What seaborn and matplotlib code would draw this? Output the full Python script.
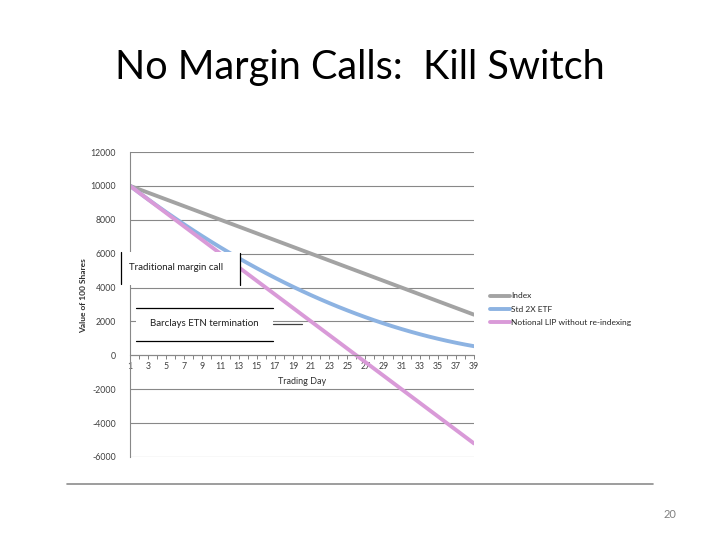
import pandas as pd
import seaborn as sns
import matplotlib.pyplot as plt
from matplotlib.patches import Rectangle
from matplotlib.lines import Line2D

sns.set_theme(style="white")
plt.rcParams['font.family'] = ['Lato', 'DejaVu Sans']

# value of 100 shares by trading day
days = list(range(1, 40))
index_vals = [10000, 9800, 9600, 9400, 9200, 9000, 8800, 8600, 8400, 8200,
              8000, 7800, 7600, 7400, 7200, 7000, 6800, 6600, 6400, 6200,
              6000, 5800, 5600, 5400, 5200, 5000, 4800, 4600, 4400, 4200,
              4000, 3800, 3600, 3400, 3200, 3000, 2800, 2600, 2400]
etf_vals = [10000, 9600, 9208, 8824, 8449, 8082, 7722, 7371, 7029, 6694,
            6367, 6049, 5739, 5437, 5143, 4857, 4580, 4310, 4049, 3796,
            3551, 3314, 3086, 2865, 2653, 2449, 2253, 2065, 1886, 1714,
            1551, 1396, 1249, 1110, 980, 857, 743, 637, 539]
lip_vals = [10000, 9600, 9200, 8800, 8400, 8000, 7600, 7200, 6800, 6400,
            6000, 5600, 5200, 4800, 4400, 4000, 3600, 3200, 2800, 2400,
            2000, 1600, 1200, 800, 400, 0, -400, -800, -1200, -1600,
            -2000, -2400, -2800, -3200, -3600, -4000, -4400, -4800, -5200]
series_names = ["Index", "Std 2X ETF", "Notional LIP without re-indexing"]
yticks = [-6000, -4000, -2000, 0, 2000, 4000, 6000, 8000, 10000, 12000]

df = pd.DataFrame({
    "day": days * 3,
    "value": index_vals + etf_vals + lip_vals,
    "series": [series_names[0]] * 39 + [series_names[1]] * 39 + [series_names[2]] * 39,
})
palette = {series_names[0]: "#a3a3a3", series_names[1]: "#8db3e2", series_names[2]: "#d99ad8"}

fig = plt.figure(figsize=(7.2, 5.4), dpi=100)
fig.patch.set_facecolor("white")
ax = fig.add_axes([130 / 720, 1 - 457 / 540, 344 / 720, 305 / 540])

sns.lineplot(data=df, x="day", y="value", hue="series", palette=palette,
             linewidth=2.8, ax=ax, legend=False)

ax.set_xlim(1, 39)
ax.set_ylim(-6000, 12000)
ax.set_yticks(yticks)
ax.set_yticklabels([str(t) for t in yticks])
ax.set_xticks(days)
ax.set_xticklabels([str(d) if d % 2 == 1 else "" for d in days])
ax.tick_params(axis="x", direction="out", length=3, width=0.7, color="#808080",
               bottom=True, pad=2, labelsize=6.3, labelcolor="#404040")
ax.tick_params(axis="y", length=0, pad=10, labelsize=6.3, labelcolor="#404040")
ax.grid(axis="y", color="#888888", linewidth=0.8)
ax.grid(axis="x", visible=False)
ax.set_axisbelow(True)
for s in ["top", "right"]:
    ax.spines[s].set_visible(False)
ax.spines["left"].set_color("#888888")
ax.spines["left"].set_linewidth(0.8)
ax.spines["bottom"].set_position(("data", 0))
ax.spines["bottom"].set_color("#888888")
ax.spines["bottom"].set_linewidth(0.8)
ax.set_facecolor("white")

ax.set_xlabel("Trading Day", fontsize=6.5, color="#303030")
ax.xaxis.set_label_coords(0.5, 0.262)
ax.set_ylabel("Value of 100 Shares", fontsize=6, fontweight="bold", color="#303030")
ax.yaxis.set_label_coords(-0.125, 0.53)

handles = [Line2D([], [], color=palette[n], linewidth=2.8) for n in series_names]
fig.legend(handles, series_names, loc="upper left",
           bbox_to_anchor=(483 / 720, 1 - 285 / 540), frameon=False,
           fontsize=6, handlelength=2.4, handletextpad=0.1, labelspacing=0.75)

# callout boxes
def fx(px):
    return px / 720

def fy(py):
    return 1 - py / 540

fig.add_artist(Rectangle((fx(120), fy(285)), fx(240) - fx(120), fy(252) - fy(285),
                         transform=fig.transFigure, facecolor="white", edgecolor="none", zorder=5))
fig.add_artist(Line2D([fx(121), fx(121)], [fy(252), fy(284)], transform=fig.transFigure,
                      color="black", linewidth=0.9, zorder=6))
fig.add_artist(Line2D([fx(240), fx(240)], [fy(253), fy(285)], transform=fig.transFigure,
                      color="black", linewidth=0.9, zorder=6))
fig.text(fx(129), fy(268), "Traditional margin call", fontsize=7, va="center", ha="left",
         color="#202020", zorder=7)

fig.add_artist(Rectangle((fx(136), fy(341)), fx(273) - fx(136), fy(308) - fy(341),
                         transform=fig.transFigure, facecolor="white", edgecolor="none", zorder=5))
for yy in (308, 341):
    fig.add_artist(Line2D([fx(136), fx(273)], [fy(yy), fy(yy)], transform=fig.transFigure,
                          color="black", linewidth=0.9, zorder=6))
fig.add_artist(Line2D([fx(273), fx(302)], [fy(323.5), fy(323.5)], transform=fig.transFigure,
                      color="#404040", linewidth=0.9, zorder=6))
fig.text(fx(204), fy(324), "Barclays ETN termination", fontsize=7, va="center", ha="center",
         color="#202020", zorder=7)

# slide elements
fig.text(0.5, fy(67), "No Margin Calls:  Kill Switch", fontsize=28.5, ha="center",
         va="center", color="black")
fig.add_artist(Line2D([fx(67), fx(653)], [fy(484), fy(484)], transform=fig.transFigure,
                      color="#8c8c8c", linewidth=1.2))
fig.text(fx(670), fy(515), "20", fontsize=8, ha="center", va="center", color="#808080")

fig.savefig("out.png", dpi=100, facecolor="white")
